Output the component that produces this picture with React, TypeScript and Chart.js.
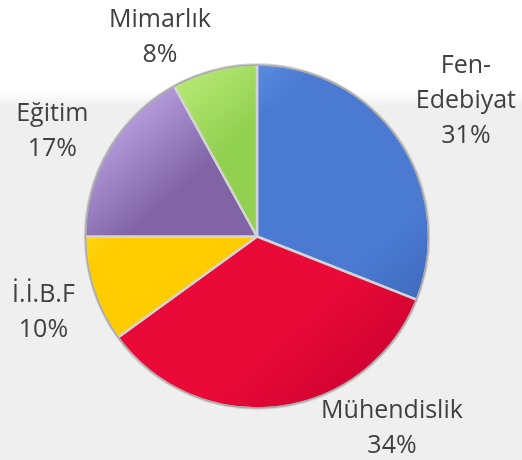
import React, { useEffect, useRef } from "react";
import { Chart, registerables } from "chart.js";

Chart.register(...registerables);

const categories = ["Fen-Edebiyat", "Mühendislik", "İ.İ.B.F", "Eğitim", "Mimarlık"];
const values = [31, 34, 10, 17, 8];

const baseColors = ["#4a7ad2", "#ea0a38", "#ffcc00", "#8064a6", "#92d050"];
const lightColors = ["#78a8f4", "#ff4a70", "#fff04a", "#c0a8e8", "#c0f080"];
const darkColors = ["#3a64b4", "#cc0030", "#f5b000", "#6a5090", "#78b838"];

// label placement relative to each slice's mid angle (degrees) and outer radius (px)
const labelAngleShift = [0.9, -28.2, -1.1, -3, -11.4];
const labelGap = [78, 61, 54, 59, 51];

const FONT = '25px "Open Sans", "Noto Sans", sans-serif';
const LINE_H = 35;
const CAP_H = 17.5;

function splitLabel(s: string): string[] {
  const i = s.indexOf("-");
  if (i > 0 && i < s.length - 1) return [s.slice(0, i + 1), s.slice(i + 1)];
  return [s];
}

const backgroundPlugin = {
  id: "bgPanel",
  beforeDraw(chart: any) {
    const { ctx, width, height } = chart;
    ctx.save();
    ctx.fillStyle = "#ffffff";
    ctx.fillRect(0, 0, width, height);
    const g = ctx.createLinearGradient(0, 92, 0, 106);
    g.addColorStop(0, "rgba(239,239,239,0)");
    g.addColorStop(1, "rgba(239,239,239,1)");
    ctx.fillStyle = g;
    ctx.fillRect(0, 92, width, 14);
    ctx.fillStyle = "#efefef";
    ctx.fillRect(0, 106, width, height - 106);
    ctx.restore();
  },
};

const outerRingPlugin = {
  id: "outerRing",
  afterDatasetsDraw(chart: any) {
    const meta = chart.getDatasetMeta(0);
    if (!meta.data.length) return;
    const arc = meta.data[0] as any;
    const { ctx } = chart;
    ctx.save();
    ctx.beginPath();
    ctx.arc(arc.x, arc.y, arc.outerRadius - 0.5, 0, Math.PI * 2);
    ctx.strokeStyle = "#a9a9a9";
    ctx.lineWidth = 1.5;
    ctx.stroke();
    ctx.restore();
  },
};

const labelPlugin = {
  id: "sliceLabels",
  afterDraw(chart: any) {
    const meta = chart.getDatasetMeta(0);
    const { ctx } = chart;
    const total = values.reduce((a, b) => a + b, 0);
    ctx.save();
    ctx.font = FONT;
    ctx.fillStyle = "#404040";
    ctx.textAlign = "center";
    ctx.textBaseline = "alphabetic";
    meta.data.forEach((el: any, i: number) => {
      const mid = (el.startAngle + el.endAngle) / 2 + (labelAngleShift[i] * Math.PI) / 180;
      const d = el.outerRadius + labelGap[i];
      const cx = el.x + Math.cos(mid) * d;
      const cy = el.y + Math.sin(mid) * d;
      const lines = [...splitLabel(categories[i]), Math.round((values[i] / total) * 100) + "%"];
      const n = lines.length;
      const first = cy - ((n - 1) * LINE_H + CAP_H) / 2 + CAP_H;
      lines.forEach((t, k) => ctx.fillText(t, cx, first + k * LINE_H));
    });
    ctx.restore();
  },
};

export default function App() {
  const ref = useRef<HTMLCanvasElement | null>(null);
  useEffect(() => {
    document.body.style.margin = "0";
    const canvas = ref.current;
    if (!canvas) return;
    const chart = new Chart(canvas, {
      type: "pie",
      data: {
        labels: categories,
        datasets: [
          {
            data: values,
            backgroundColor: (c: any) => {
              const i = c.dataIndex;
              const area = c.chart.chartArea;
              if (!area) return baseColors[i];
              const cx = (area.left + area.right) / 2;
              const cy = (area.top + area.bottom) / 2;
              const r = 172;
              const g = c.chart.ctx.createLinearGradient(cx - r * 0.75, cy - r * 0.85, cx + r * 0.75, cy + r * 0.85);
              g.addColorStop(0, lightColors[i]);
              g.addColorStop(0.28, baseColors[i]);
              g.addColorStop(0.72, baseColors[i]);
              g.addColorStop(1, darkColors[i]);
              return g;
            },
            borderColor: "#d4d4d4",
            borderWidth: 2.5,
          },
        ],
      },
      options: {
        responsive: false,
        maintainAspectRatio: false,
        animation: false,
        radius: 172,
        layout: { padding: { left: 80, right: 88, top: 59, bottom: 46 } },
        plugins: {
          legend: { display: false },
          tooltip: { enabled: false },
        },
      },
      plugins: [backgroundPlugin, outerRingPlugin, labelPlugin],
    });
    return () => chart.destroy();
  }, []);
  return <canvas ref={ref} width={522} height={460} style={{ display: "block" }} />;
}
